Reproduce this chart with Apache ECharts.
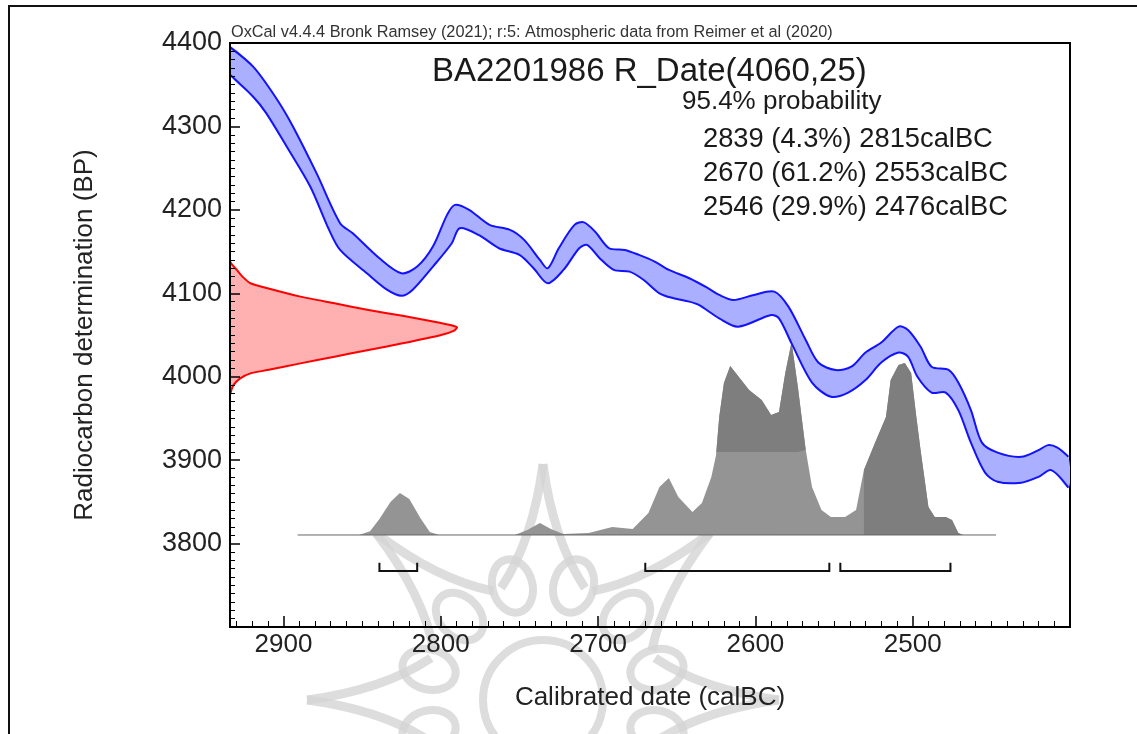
<!DOCTYPE html>
<html>
<head>
<meta charset="utf-8">
<script src="https://cdn.jsdelivr.net/npm/echarts@6/dist/echarts.min.js"></script>
<style>
  html, body { margin: 0; padding: 0; background: #fff; }
  #main { width: 1137px; height: 734px; }
</style>
</head>
<body>
<div id="main"></div>
<script>
const FONT = '"Liberation Sans", Arial, Helvetica, sans-serif';

// axis ranges (calBC runs right to left)
const xRange = [2400, 2934];
const yRange = [3700, 4400];
const tickStep = 100;

// calibration curve envelope
const upperYears = [2934, 2919, 2904, 2894, 2879, 2864, 2856, 2839, 2825, 2815, 2805, 2796, 2791, 2782, 2769, 2756, 2747, 2737, 2732, 2725, 2715, 2709, 2702, 2693, 2683, 2674, 2664, 2655, 2642, 2630, 2623, 2614, 2601, 2588, 2579, 2568, 2560, 2549, 2539, 2530, 2520, 2509, 2503, 2495, 2488, 2477, 2471, 2463, 2456, 2446, 2431, 2420, 2414, 2408, 2401];
const upperBP = [4395, 4371, 4332, 4300, 4244, 4184, 4172, 4142, 4124, 4132, 4156, 4194, 4206, 4200, 4182, 4176, 4164, 4140, 4130, 4154, 4182, 4185, 4174, 4154, 4152, 4146, 4138, 4128, 4118, 4106, 4098, 4092, 4098, 4102, 4084, 4044, 4017, 4008, 4012, 4029, 4041, 4060, 4056, 4036, 4012, 4008, 3993, 3960, 3921, 3909, 3904, 3912, 3918, 3915, 3904];
const lowerYears = [2934, 2919, 2911, 2898, 2883, 2871, 2864, 2847, 2834, 2825, 2818, 2805, 2793, 2788, 2776, 2763, 2750, 2741, 2732, 2722, 2712, 2707, 2699, 2690, 2680, 2671, 2661, 2652, 2642, 2636, 2623, 2611, 2590, 2585, 2577, 2564, 2552, 2541, 2530, 2520, 2509, 2503, 2497, 2488, 2479, 2471, 2463, 2454, 2446, 2431, 2420, 2412, 2401];
const lowerBP = [4362, 4335, 4316, 4276, 4228, 4176, 4152, 4124, 4104, 4097, 4104, 4132, 4160, 4178, 4170, 4154, 4146, 4130, 4112, 4128, 4154, 4158, 4142, 4128, 4126, 4116, 4100, 4094, 4090, 4086, 4070, 4060, 4074, 4070, 4040, 3993, 3976, 3981, 3996, 4017, 4029, 4024, 4000, 3981, 3981, 3960, 3921, 3885, 3874, 3873, 3880, 3888, 3867];

// R_Date(4060,25) likelihood, relative to its peak
const dateBP = [4138, 4134, 4128, 4120, 4112, 4106, 4096, 4088, 4080, 4073, 4066, 4062, 4059, 4055, 4050, 4040, 4032, 4024, 4016, 4008, 4004, 3998, 3990, 3984, 3978];
const dateDensity = [0, 0.01, 0.03, 0.055, 0.09, 0.165, 0.31, 0.46, 0.61, 0.76, 0.90, 0.97, 1.0, 0.985, 0.93, 0.76, 0.61, 0.46, 0.31, 0.165, 0.09, 0.045, 0.015, 0.006, 0];

// calibrated distribution, relative to the highest peak
const calYears = [2891, 2852, 2845, 2839, 2832, 2826, 2820, 2813, 2807, 2801, 2753, 2745, 2737, 2730, 2722, 2706, 2691, 2678, 2668, 2661, 2655, 2649, 2640, 2634, 2628, 2625, 2623, 2620, 2616, 2609, 2604, 2596, 2590, 2585, 2581, 2577, 2573, 2568, 2564, 2558, 2552, 2543, 2536, 2531, 2524, 2517, 2514, 2509, 2505, 2501, 2498, 2495, 2490, 2486, 2479, 2475, 2471, 2468, 2447];
const calProb = [0, 0, 0.02, 0.083, 0.171, 0.218, 0.187, 0.088, 0.016, 0, 0, 0.026, 0.062, 0.031, 0.005, 0.01, 0.041, 0.031, 0.114, 0.249, 0.295, 0.197, 0.119, 0.166, 0.30, 0.415, 0.611, 0.788, 0.876, 0.803, 0.751, 0.70, 0.622, 0.637, 0.839, 1.0, 0.767, 0.44, 0.249, 0.13, 0.093, 0.093, 0.13, 0.337, 0.477, 0.611, 0.803, 0.881, 0.891, 0.839, 0.632, 0.44, 0.145, 0.093, 0.093, 0.078, 0.01, 0, 0];

// darker shaded parts of the distribution
const shadeFrom = [2625, 2531];
const shadeTo = [2568, 2468];
const shadeFloor = [0.43, 0];

// 95.4% ranges
const rangeFrom = [2839, 2670, 2546];
const rangeTo = [2815, 2553, 2476];
const rangePct = ['4.3', '61.2', '29.9'];

const sampleName = 'BA2201986';
const dateMean = 4060;
const dateError = 25;

const chart = echarts.init(document.getElementById('main'));

const axisCommon = {
  type: 'value',
  z: 5,
  axisLine: { show: true, onZero: false, lineStyle: { color: '#000', width: 2 } },
  axisTick: { show: true, inside: true, length: 10, lineStyle: { color: '#000', width: 1.5 } },
  minorTick: { show: true, splitNumber: 10, length: 5, lineStyle: { color: '#000', width: 1 } },
  splitLine: { show: false },
  nameLocation: 'middle',
  nameTextStyle: { fontFamily: FONT, fontSize: 26, color: '#222' },
};

const shadeSeries = shadeFrom.map((from, k) => ({
  type: 'line',
  xAxisIndex: 0,
  yAxisIndex: 1,
  data: calYears
    .map((y, i) => [y, calProb[i]])
    .filter((p) => p[0] <= from && p[0] >= shadeTo[k]),
  symbol: 'none',
  lineStyle: { opacity: 0 },
  areaStyle: { color: '#7e7e7e', opacity: 1, origin: shadeFloor[k] },
  z: 2,
  silent: true,
}));

// faint rosette watermark over the lower part of the picture
const markStyle = { fill: null, stroke: '#d4d4d4', lineWidth: 9, opacity: 0.8 };
const rosette = [];
for (let k = 0; k < 8; k++) {
  const rot = (k * Math.PI) / 4;
  rosette.push(
    { type: 'bezierCurve', rotation: rot, shape: { x1: -42, y1: -112, cpx1: -10, cpy1: -160, x2: 0, y2: -236 }, style: markStyle },
    { type: 'bezierCurve', rotation: rot, shape: { x1: 42, y1: -112, cpx1: 10, cpy1: -160, x2: 0, y2: -236 }, style: markStyle }
  );
}
for (let k = 0; k < 12; k++) {
  const a = ((15 + k * 30) * Math.PI) / 180;
  rosette.push({
    type: 'ellipse',
    x: 118 * Math.sin(a),
    y: -118 * Math.cos(a),
    rotation: -a,
    shape: { cx: 0, cy: 0, rx: 20, ry: 27 },
    style: { ...markStyle, lineWidth: 8 },
  });
}
rosette.push({ type: 'circle', shape: { cx: 0, cy: 0, r: 60 }, style: { ...markStyle, lineWidth: 8 } });

const textStyle = (size) => ({ font: size + 'px ' + FONT, fill: '#1a1a1a', align: 'left', verticalAlign: 'middle' });

const option = {
  animation: false,
  backgroundColor: '#fff',
  grid: { left: 230, right: 67, top: 43, bottom: 107, show: true, borderColor: '#000', borderWidth: 2 },
  xAxis: [
    {
      ...axisCommon,
      inverse: true,
      min: xRange[0],
      max: xRange[1],
      interval: tickStep,
      axisTick: { ...axisCommon.axisTick, length: 11 },
      minorTick: { ...axisCommon.minorTick, length: 6 },
      axisLabel: { fontFamily: FONT, fontSize: 26, color: '#222', margin: 5, showMinLabel: false, showMaxLabel: false, formatter: (v) => String(v) },
      name: 'Calibrated date (calBC)',
      nameGap: 58,
    },
    { type: 'value', show: false, min: 0, max: 3.7, axisLine: { onZero: false } },
  ],
  yAxis: [
    {
      ...axisCommon,
      min: yRange[0],
      max: yRange[1],
      interval: tickStep,
      axisLabel: { fontFamily: FONT, fontSize: 27, color: '#222', margin: 8, showMinLabel: false, formatter: (v) => String(v) },
      name: 'Radiocarbon determination (BP)',
      nameGap: 132,
    },
    { type: 'value', show: false, min: -0.4767, max: 2.549, axisLine: { onZero: false } },
  ],
  graphic: [
    { type: 'group', x: 543, y: 700, z: 4, silent: true, children: rosette },
    { type: 'rect', z: 100, shape: { x: 9, y: 6, width: 1200, height: 800 }, style: { fill: null, stroke: '#111', lineWidth: 2 }, silent: true },
    { type: 'text', z: 100, x: 231, y: 41, silent: true,
      style: { text: 'OxCal v4.4.4 Bronk Ramsey (2021); r:5: Atmospheric data from Reimer et al (2020)', font: '16.3px ' + FONT, fill: '#333', align: 'left', verticalAlign: 'bottom' } },
    { type: 'text', z: 100, x: 432, y: 72, silent: true,
      style: { text: sampleName + ' R_Date(' + dateMean + ',' + dateError + ')', ...textStyle(33) } },
    { type: 'text', z: 100, x: 682, y: 102, silent: true,
      style: { text: '95.4% probability', ...textStyle(26) } },
    ...rangeFrom.map((f, i) => ({
      type: 'text', z: 100, x: 703, y: 139 + i * 34, silent: true,
      style: { text: f + ' (' + rangePct[i] + '%) ' + rangeTo[i] + 'calBC', ...textStyle(27.3) },
    })),
  ],
  series: [
    {
      type: 'line',
      xAxisIndex: 0,
      yAxisIndex: 1,
      data: calYears.map((y, i) => [y, calProb[i]]),
      symbol: 'none',
      lineStyle: { opacity: 0 },
      areaStyle: { color: '#949494', opacity: 1, origin: 0 },
      z: 1,
      silent: true,
    },
    ...shadeSeries,
    {
      type: 'line',
      xAxisIndex: 0,
      yAxisIndex: 1,
      data: [[calYears[0], 0], [calYears[calYears.length - 1], 0]],
      symbol: 'none',
      lineStyle: { color: '#666', width: 1 },
      z: 3,
      silent: true,
    },
    {
      // red likelihood of the radiocarbon measurement, laid along the y axis
      type: 'custom',
      xAxisIndex: 1,
      yAxisIndex: 0,
      clip: true,
      silent: true,
      z: 3,
      data: [[0, dateMean]],
      renderItem: (params, api) => {
        const curve = dateDensity.map((d, i) => api.coord([d, dateBP[i]]));
        const closed = curve.concat([api.coord([0, dateBP[dateBP.length - 1]]), api.coord([0, dateBP[0]])]);
        return {
          type: 'group',
          children: [
            { type: 'polygon', shape: { points: closed, smooth: 0.2 }, style: { fill: '#ffb0b0', stroke: null } },
            { type: 'polyline', shape: { points: curve, smooth: 0.2 }, style: { fill: null, stroke: '#ff0000', lineWidth: 2 } },
          ],
        };
      },
    },
    {
      // calibration curve band
      type: 'custom',
      xAxisIndex: 0,
      yAxisIndex: 0,
      clip: true,
      silent: true,
      z: 4,
      data: [[2700, 4100]],
      renderItem: (params, api) => {
        const up = upperYears.map((y, i) => api.coord([y, upperBP[i]]));
        const low = lowerYears.map((y, i) => api.coord([y, lowerBP[i]]));
        return {
          type: 'group',
          children: [
            { type: 'polygon', shape: { points: up.concat(low.slice().reverse()), smooth: 0.3 }, style: { fill: '#aab0ff', stroke: null } },
            { type: 'polyline', shape: { points: up, smooth: 0.3 }, style: { fill: null, stroke: '#1212ff', lineWidth: 2 } },
            { type: 'polyline', shape: { points: low, smooth: 0.3 }, style: { fill: null, stroke: '#1212ff', lineWidth: 2 } },
          ],
        };
      },
    },
    {
      // 95.4% range brackets
      type: 'custom',
      xAxisIndex: 0,
      yAxisIndex: 0,
      silent: true,
      z: 4,
      data: rangeFrom.map((f, i) => [f, rangeTo[i]]),
      renderItem: (params, api) => {
        const a = api.value(0);
        const b = api.value(1);
        const pts = [
          api.coord([a, 3777]),
          api.coord([a, 3767]),
          api.coord([b, 3767]),
          api.coord([b, 3777]),
        ];
        return { type: 'polyline', shape: { points: pts }, style: { fill: null, stroke: '#111', lineWidth: 2 } };
      },
    },
  ],
};

chart.setOption(option);
</script>
</body>
</html>
